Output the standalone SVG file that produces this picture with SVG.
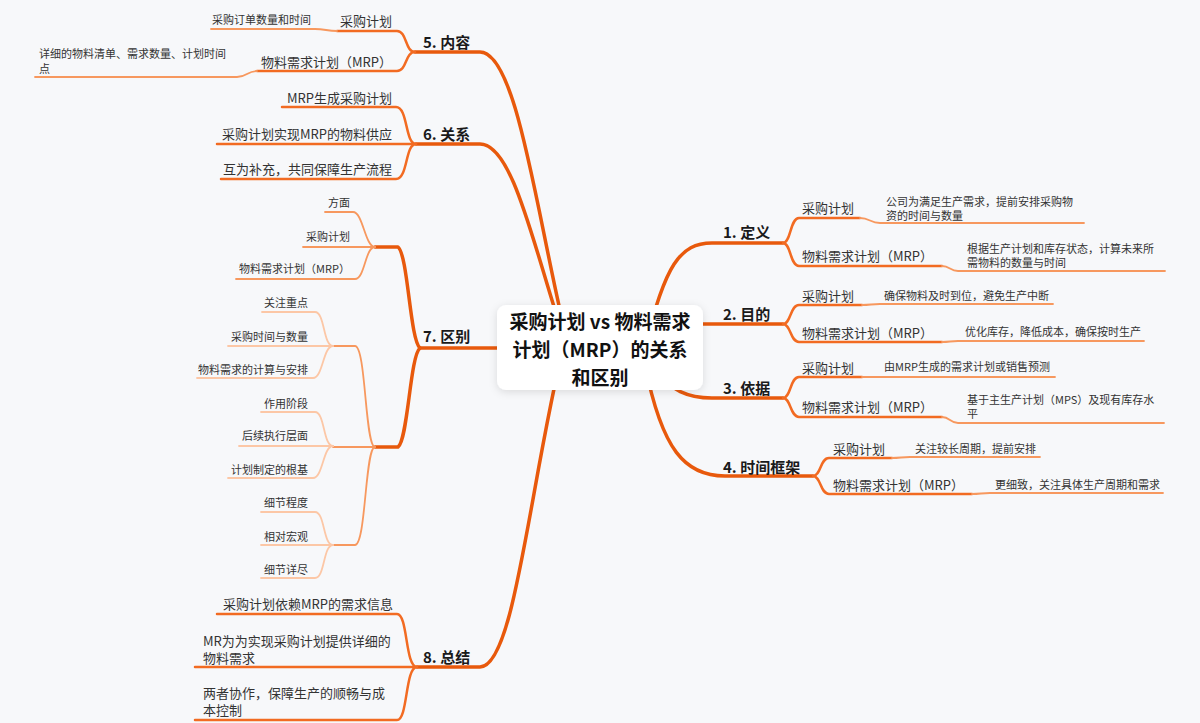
<svg xmlns="http://www.w3.org/2000/svg" width="1200" height="723" viewBox="0 0 1200 723">
<defs>
<style>
.main{fill:none;stroke:#e8590c;stroke-width:3.5;stroke-linecap:round;stroke-linejoin:round}
.sub{fill:none;stroke:#f26b22;stroke-width:2.5;stroke-linecap:round}
.leaf{fill:none;stroke:#f7985e;stroke-width:1.8;stroke-linecap:round}
.pale{fill:none;stroke:#fcc7a6;stroke-width:1.8;stroke-linecap:round}
text{font-family:"Noto Sans CJK SC","Noto Sans",sans-serif;dominant-baseline:central}
.root{font-size:19px;font-weight:700;fill:#111;text-anchor:middle}
.b{font-size:15px;font-weight:700;fill:#1a1a1a}
.s{font-size:13px;fill:#333}
.l{font-size:11px;fill:#333}
.e{text-anchor:end}
</style>
<filter id="sh" x="-20%" y="-30%" width="140%" height="160%">
<feDropShadow dx="0" dy="2" stdDeviation="4" flood-color="#000" flood-opacity="0.12"/>
</filter>
</defs>
<rect width="1200" height="723" fill="#f7f8fa"/>
<g id="connectors">
<path class="main" d="M645,347 C665,265 680,243 712,243 H783"/>
<path class="main" d="M660,324 H783"/>
<path class="main" d="M650,365 C670,392 690,398 712,398 H783"/>
<path class="main" d="M645,365 C662,450 685,476 725,476 H813"/>
<path class="main" d="M568,345 L560,310 C535,200 515,52 480,52 H415"/>
<path class="main" d="M562,340 L555,310 C530,230 510,144 480,144 H416"/>
<path class="main" d="M560,348 H420"/>
<path class="main" d="M570,345 L565,340 C530,480 515,667 480,667 H417"/>
<path class="sub" d="M783,243 C791,243 790,218 799,218 H860"/>
<path class="sub" d="M783,243 C791,243 790,266 799,266 H942"/>
<path class="leaf" d="M860,218 C870,218 870,223 880,223 H1084"/>
<path class="leaf" d="M942,266 C950,266 950,271 958,271 H1165"/>
<path class="sub" d="M783,324 C791,324 790,305 799,305 H862"/>
<path class="sub" d="M783,324 C791,324 790,342 799,342 H942"/>
<path class="leaf" d="M862,305 C870,305 872,304 880,304 H1053"/>
<path class="leaf" d="M942,342 C950,342 950,341 958,341 H1144"/>
<path class="sub" d="M783,398 C791,398 790,377 799,377 H862"/>
<path class="sub" d="M783,398 C791,398 790,417 799,417 H942"/>
<path class="leaf" d="M862,377 C870,377 872,377 880,377 H1055"/>
<path class="leaf" d="M942,417 C950,417 950,423 958,423 H1164"/>
<path class="sub" d="M813,476 C821,476 820,458 829,458 H892"/>
<path class="sub" d="M813,476 C821,476 820,494 829,494 H972"/>
<path class="leaf" d="M892,458 C900,458 902,457 910,457 H1040"/>
<path class="leaf" d="M972,494 C980,494 982,493 990,493 H1163"/>
<path class="sub" d="M415,52 C405,52 407,31 397,31 H337"/>
<path class="sub" d="M415,52 C405,52 407,71 397,71 H257"/>
<path class="leaf" d="M337,31 C327,31 325,29 315,29 H211"/>
<path class="leaf" d="M257,71 C247,71 247,77 237,77 H35"/>
<path class="sub" d="M416,144 C405,144 408,107 396,107 H282"/>
<path class="sub" d="M416,144 H217"/>
<path class="sub" d="M416,144 C405,144 408,179 396,179 H221"/>
<path class="main" d="M420,348 C410,340 408,255 398,247 H375"/>
<path class="main" d="M420,348 C410,356 408,440 398,447 H375"/>
<path class="leaf" d="M375,247 C365,247 363,212 353,212 H325"/>
<path class="leaf" d="M375,247 H303"/>
<path class="leaf" d="M375,247 C365,247 365,279 355,279 H236"/>
<path class="leaf" d="M375,447 C365,447 366,346 355,346 H333"/>
<path class="leaf" d="M375,447 H333"/>
<path class="leaf" d="M375,447 C365,447 366,545 355,545 H333"/>
<path class="pale" d="M333,346 C323,346 325,312 315,312 H262"/>
<path class="pale" d="M333,346 H228"/>
<path class="pale" d="M333,346 C323,346 323,378 313,378 H197"/>
<path class="pale" d="M333,446 C323,446 325,412 315,412 H261"/>
<path class="pale" d="M333,446 H239"/>
<path class="pale" d="M333,446 C323,446 323,478 313,478 H228"/>
<path class="pale" d="M333,545 C323,545 325,512 315,512 H261"/>
<path class="pale" d="M333,545 H261"/>
<path class="pale" d="M333,545 C323,545 325,578 315,578 H261"/>
<path class="sub" d="M417,667 C405,667 408,614 397,614 H217"/>
<path class="sub" d="M417,667 H195"/>
<path class="sub" d="M417,667 C405,667 408,720 397,720 H195"/>
</g>
<g id="root">
<rect x="497" y="305" width="206" height="85" rx="9" fill="#fff" filter="url(#sh)"/>
<text class="root" x="600" y="320">采购计划 vs 物料需求</text>
<text class="root" x="600" y="348">计划（MRP）的关系</text>
<text class="root" x="600" y="376">和区别</text>
</g>
<g id="b1">
<text class="b" x="723" y="231">1. 定义</text>
<text class="s" x="802" y="207">采购计划</text>
<text class="l" x="886" y="201">公司为满足生产需求，提前安排采购物</text>
<text class="l" x="886" y="215">资的时间与数量</text>
<text class="s" x="802" y="255">物料需求计划（MRP）</text>
<text class="l" x="967" y="248">根据生产计划和库存状态，计算未来所</text>
<text class="l" x="967" y="262">需物料的数量与时间</text>
</g>
<g id="b2">
<text class="b" x="723" y="313">2. 目的</text>
<text class="s" x="802" y="295">采购计划</text>
<text class="l" x="884" y="295">确保物料及时到位，避免生产中断</text>
<text class="s" x="802" y="332">物料需求计划（MRP）</text>
<text class="l" x="965" y="331">优化库存，降低成本，确保按时生产</text>
</g>
<g id="b3">
<text class="b" x="723" y="387">3. 依据</text>
<text class="s" x="802" y="367">采购计划</text>
<text class="l" x="884" y="366">由MRP生成的需求计划或销售预测</text>
<text class="s" x="802" y="406">物料需求计划（MRP）</text>
<text class="l" x="967" y="399">基于主生产计划（MPS）及现有库存水</text>
<text class="l" x="967" y="413">平</text>
</g>
<g id="b4">
<text class="b" x="723" y="466">4. 时间框架</text>
<text class="s" x="833" y="448">采购计划</text>
<text class="l" x="915" y="448">关注较长周期，提前安排</text>
<text class="s" x="833" y="484">物料需求计划（MRP）</text>
<text class="l" x="995" y="484">更细致，关注具体生产周期和需求</text>
</g>
<g id="b5">
<text class="b" x="423" y="41">5. 内容</text>
<text class="s e" x="392" y="20">采购计划</text>
<text class="l e" x="311" y="19">采购订单数量和时间</text>
<text class="s e" x="392" y="61">物料需求计划（MRP）</text>
<text class="l" x="39" y="53">详细的物料清单、需求数量、计划时间</text>
<text class="l" x="39" y="68">点</text>
</g>
<g id="b6">
<text class="b" x="423" y="133">6. 关系</text>
<text class="s e" x="392" y="97">MRP生成采购计划</text>
<text class="s e" x="392" y="133">采购计划实现MRP的物料供应</text>
<text class="s e" x="392" y="168">互为补充，共同保障生产流程</text>
</g>
<g id="b7">
<text class="b" x="423" y="335">7. 区别</text>
<text class="l e" x="350" y="202">方面</text>
<text class="l e" x="350" y="236">采购计划</text>
<text class="l e" x="350" y="268">物料需求计划（MRP）</text>
<text class="l e" x="308" y="302">关注重点</text>
<text class="l e" x="308" y="336">采购时间与数量</text>
<text class="l e" x="308" y="369">物料需求的计算与安排</text>
<text class="l e" x="308" y="403">作用阶段</text>
<text class="l e" x="308" y="435">后续执行层面</text>
<text class="l e" x="308" y="469">计划制定的根基</text>
<text class="l e" x="308" y="502">细节程度</text>
<text class="l e" x="308" y="536">相对宏观</text>
<text class="l e" x="308" y="569">细节详尽</text>
</g>
<g id="b8">
<text class="b" x="423" y="656">8. 总结</text>
<text class="s e" x="393" y="603">采购计划依赖MRP的需求信息</text>
<text class="s" x="203" y="640">MR为为实现采购计划提供详细的</text>
<text class="s" x="203" y="657">物料需求</text>
<text class="s" x="203" y="692">两者协作，保障生产的顺畅与成</text>
<text class="s" x="203" y="709">本控制</text>
</g>
</svg>
